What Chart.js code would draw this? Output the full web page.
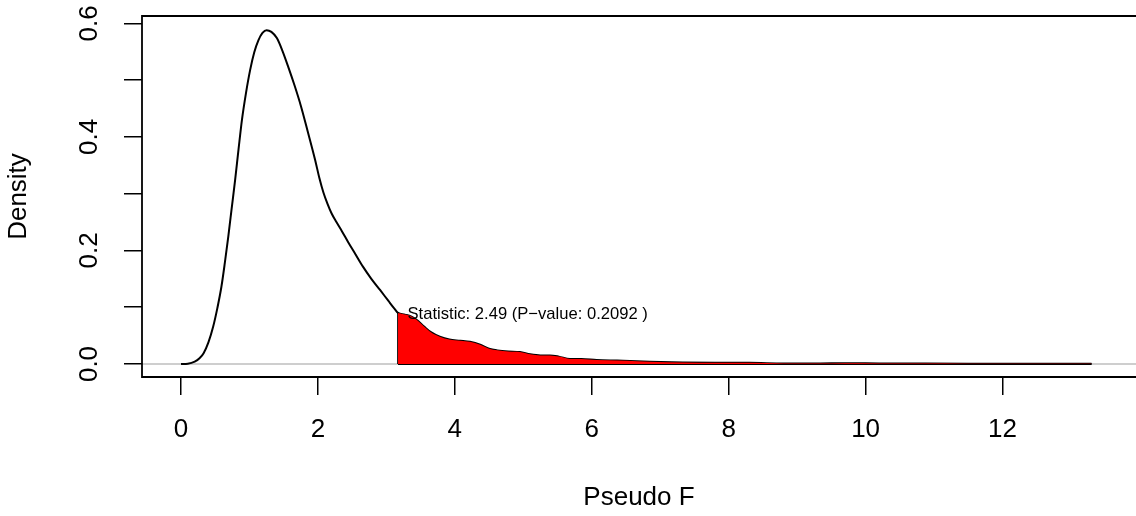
<!DOCTYPE html>
<html>
<head>
<meta charset="utf-8">
<script src="https://cdn.jsdelivr.net/npm/chart.js@4/dist/chart.umd.min.js"></script>
<style>
  html, body { margin: 0; padding: 0; background: #ffffff; }
  #wrap { width: 1136px; height: 516px; position: relative; }
</style>
</head>
<body>
<div id="wrap"><canvas id="c" width="1136" height="516"></canvas></div>
<script>
// ---- data ----
const densityX = [0.00, 0.10, 0.20, 0.27, 0.33, 0.40, 0.47, 0.53, 0.59, 0.64, 0.69, 0.74, 0.79, 0.84, 0.89, 0.95,
  1.01, 1.07, 1.13, 1.19, 1.25, 1.32, 1.40, 1.48, 1.57, 1.66, 1.75, 1.85, 1.96, 2.02, 2.08, 2.14, 2.20, 2.27, 2.35,
  2.44, 2.55, 2.66, 2.78, 2.91, 3.03, 3.12, 3.17, 3.27, 3.36, 3.44, 3.55, 3.65, 3.78, 3.92, 4.08, 4.22, 4.37,
  4.50, 4.62, 4.78, 4.95, 5.10, 5.25, 5.39, 5.52, 5.68, 5.85, 6.07, 6.37, 6.66, 6.85, 7.33, 7.80, 8.30, 8.80,
  9.30, 9.70, 10.20, 10.80, 11.50, 12.20, 12.80, 13.30];
const densityY = [0.000, 0.0005, 0.004, 0.010, 0.019, 0.038, 0.066, 0.098, 0.136, 0.178, 0.224, 0.274, 0.324, 0.378, 0.430, 0.478,
  0.518, 0.549, 0.570, 0.583, 0.588, 0.585, 0.574, 0.552, 0.522, 0.490, 0.455, 0.410, 0.359, 0.328, 0.302, 0.282, 0.265, 0.250, 0.234,
  0.215, 0.193, 0.171, 0.150, 0.130, 0.111, 0.097, 0.090, 0.087, 0.084, 0.078, 0.066, 0.056, 0.048, 0.043, 0.041, 0.039, 0.034,
  0.027, 0.024, 0.022, 0.021, 0.017, 0.015, 0.015, 0.013, 0.009, 0.009, 0.007, 0.006, 0.005, 0.004, 0.0025, 0.002, 0.002, 0.001,
  0.001, 0.0015, 0.001, 0.0007, 0.0005, 0.0005, 0.0004, 0.0003];
const tailStart = 3.17;
const statText = "Statistic: 2.49 (P\u2212value: 0.2092 )";
const statX = 3.17;
const statY = 0.090;
const xTicks = [0, 2, 4, 6, 8, 10, 12];
const yTicks = [0, 0.1, 0.2, 0.3, 0.4, 0.5, 0.6];
const yTickLabelValues = [0, 0.2, 0.4, 0.6];
const yTickLabels = ["0.0", "0.2", "0.4", "0.6"];
const xTitle = "Pseudo F";
const yTitle = "Density";

// ---- derived tables ----
const curvePts = densityX.map((x, i) => ({ x: x, y: densityY[i] }));
const tailPts = curvePts.filter(p => p.x >= tailStart);
const tailEnd = densityX[densityX.length - 1];
const tailY0 = densityY[densityX.indexOf(tailStart)];

const FONT = '"Liberation Sans", Arial, Helvetica, sans-serif';

const rPlot = {
  id: 'rPlot',
  beforeDatasetsDraw(chart) {
    const { ctx, chartArea, scales } = chart;
    const y0 = scales.y.getPixelForValue(0);
    ctx.save();
    ctx.strokeStyle = '#bebebe';
    ctx.lineWidth = 1.5;
    ctx.beginPath();
    ctx.moveTo(chartArea.left, y0);
    ctx.lineTo(chartArea.right, y0);
    ctx.stroke();
    ctx.restore();
  },
  afterDraw(chart) {
    const { ctx, chartArea, scales } = chart;
    ctx.save();
    // box (right side lies beyond the visible page)
    ctx.strokeStyle = '#000';
    ctx.lineWidth = 1.8;
    ctx.beginPath();
    ctx.moveTo(chartArea.right + 2, chartArea.top);
    ctx.lineTo(chartArea.left, chartArea.top);
    ctx.lineTo(chartArea.left, chartArea.bottom);
    ctx.lineTo(chartArea.right + 2, chartArea.bottom);
    ctx.stroke();
    // rotated y tick labels
    ctx.fillStyle = '#000';
    ctx.font = '26px ' + FONT;
    ctx.textAlign = 'center';
    ctx.textBaseline = 'middle';
    yTickLabelValues.forEach((v, i) => {
      const py = scales.y.getPixelForValue(v);
      ctx.save();
      ctx.translate(89.5, py);
      ctx.rotate(-Math.PI / 2);
      ctx.fillText(yTickLabels[i], 0, 0);
      ctx.restore();
    });
    // statistic annotation
    ctx.font = '16.6px ' + FONT;
    ctx.textAlign = 'left';
    ctx.textBaseline = 'middle';
    ctx.fillText(statText, scales.x.getPixelForValue(statX) + 9.5, scales.y.getPixelForValue(statY) + 1.5);
    ctx.restore();
  }
};

new Chart(document.getElementById('c'), {
  type: 'line',
  data: {
    datasets: [
      {
        data: tailPts,
        borderWidth: 0,
        borderColor: 'rgba(0,0,0,0)',
        backgroundColor: '#ff0000',
        fill: 'origin',
        pointRadius: 0,
        cubicInterpolationMode: 'monotone'
      },
      {
        data: [{ x: tailStart, y: 0 }, { x: tailEnd, y: 0 }],
        borderColor: '#000',
        borderWidth: 2,
        fill: false,
        pointRadius: 0
      },
      {
        data: [{ x: tailStart, y: 0 }, { x: tailStart, y: tailY0 }],
        borderColor: '#000',
        borderWidth: 1.8,
        fill: false,
        pointRadius: 0
      },
      {
        data: curvePts,
        borderColor: '#000',
        borderWidth: 2,
        fill: false,
        pointRadius: 0,
        cubicInterpolationMode: 'monotone'
      }
    ]
  },
  options: {
    responsive: false,
    animation: false,
    devicePixelRatio: 1,
    layout: { padding: { top: 16, left: 0, right: 0, bottom: 0 } },
    plugins: { legend: { display: false }, tooltip: { enabled: false } },
    scales: {
      x: {
        type: 'linear',
        min: -0.57,
        max: 13.95,
        afterBuildTicks: (axis) => { axis.ticks = xTicks.map(v => ({ value: v })); },
        afterFit: (scale) => { scale.height = 139; },
        border: { display: false },
        grid: { drawOnChartArea: false, drawTicks: true, tickLength: 18, tickColor: '#000', tickWidth: 1.5, lineWidth: 1.5, color: '#000' },
        ticks: { autoSkip: false, maxRotation: 0, minRotation: 0, color: '#000', padding: 19, font: { family: FONT, size: 26 } },
        title: { display: true, text: xTitle, color: '#000', font: { family: FONT, size: 26 }, padding: { top: 0, bottom: 3 } }
      },
      y: {
        type: 'linear',
        min: -0.0229,
        max: 0.6129,
        afterBuildTicks: (axis) => { axis.ticks = yTicks.map(v => ({ value: v })); },
        afterFit: (scale) => { scale.width = 142; },
        border: { display: false },
        grid: { drawOnChartArea: false, drawTicks: true, tickLength: 18, tickColor: '#000', tickWidth: 1.5, lineWidth: 1.5, color: '#000' },
        ticks: { display: false },
        title: { display: true, text: yTitle, color: '#000', font: { family: FONT, size: 26 }, padding: { top: 3, bottom: 0 } }
      }
    }
  },
  plugins: [rPlot]
});
</script>
</body>
</html>
